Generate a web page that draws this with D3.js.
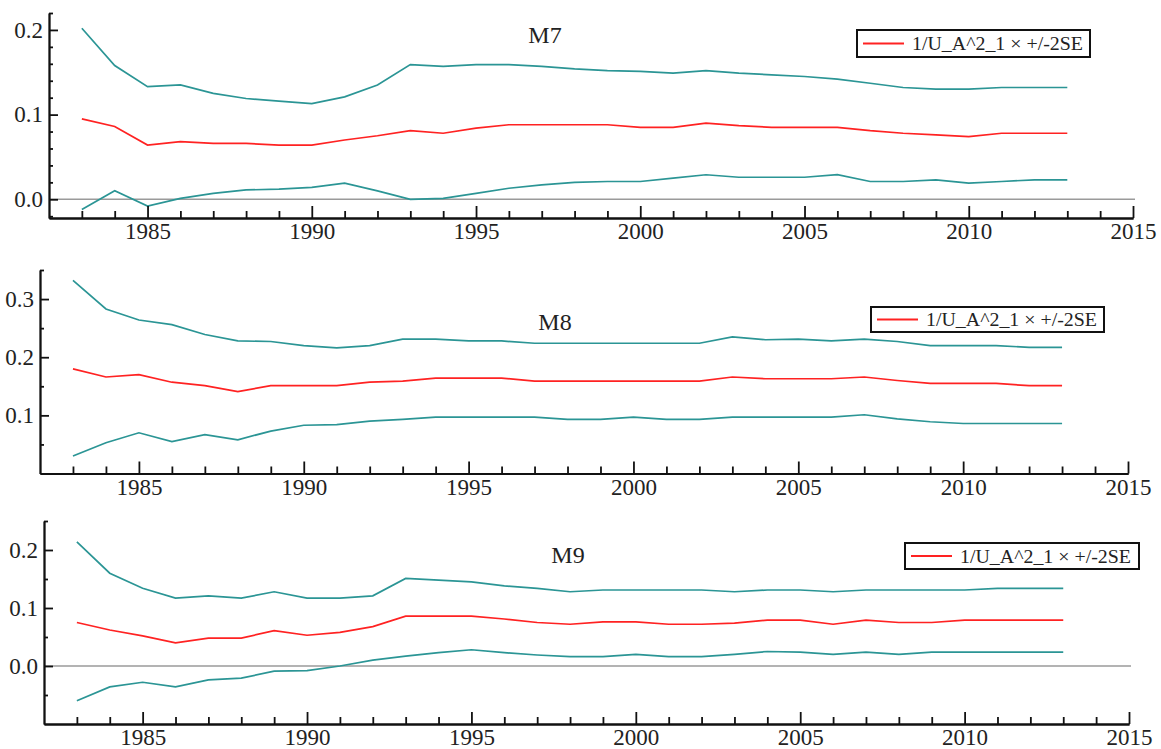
<!DOCTYPE html>
<html>
<head>
<meta charset="utf-8">
<script src="https://cdn.jsdelivr.net/npm/d3@7"></script>
<style>
  body { margin: 0; background: #fff; }
  svg { display: block; }
  text { font-family: "Liberation Serif", "Times New Roman", serif; }
  .axis path, .axis line { stroke: #111; stroke-width: 1.8; }
  .axis text { fill: #222; font-size: 23px; }
</style>
</head>
<body>
<svg id="chart" width="1161" height="749"></svg>
<script>
// years 1983..2013
var years = [1983,1984,1985,1986,1987,1988,1989,1990,1991,1992,1993,1994,1995,1996,1997,
  1998,1999,2000,2001,2002,2003,2004,2005,2006,2007,2008,2009,2010,2011,2012,2013];

// M7 //
var m7Upper = [0.202,0.158,0.133,0.135,0.125,0.119,0.116,0.113,0.121,0.135,0.159,0.157,0.159,0.159,0.157,
  0.154,0.152,0.151,0.149,0.152,0.149,0.147,0.145,0.142,0.137,0.132,0.130,0.130,0.132,0.132,0.132];
var m7Mid = [0.095,0.086,0.064,0.068,0.066,0.066,0.064,0.064,0.070,0.075,0.081,0.078,0.084,0.088,0.088,
  0.088,0.088,0.085,0.085,0.090,0.087,0.085,0.085,0.085,0.081,0.078,0.076,0.074,0.078,0.078,0.078];
var m7Lower = [-0.012,0.010,-0.008,0.001,0.007,0.011,0.012,0.014,0.019,0.010,0.000,0.001,0.007,0.013,0.017,
  0.020,0.021,0.021,0.025,0.029,0.026,0.026,0.026,0.029,0.021,0.021,0.023,0.019,0.021,0.023,0.023];

// M8 //
var m8Upper = [0.332,0.283,0.264,0.256,0.239,0.228,0.227,0.220,0.216,0.220,0.231,0.231,0.228,0.228,0.224,
  0.224,0.224,0.224,0.224,0.224,0.235,0.230,0.231,0.228,0.231,0.227,0.220,0.220,0.220,0.217,0.217];
var m8Mid = [0.180,0.166,0.170,0.157,0.151,0.141,0.151,0.151,0.151,0.157,0.159,0.164,0.164,0.164,0.159,
  0.159,0.159,0.159,0.159,0.159,0.166,0.163,0.163,0.163,0.166,0.160,0.155,0.155,0.155,0.151,0.151];
var m8Lower = [0.030,0.053,0.070,0.055,0.067,0.058,0.073,0.083,0.084,0.090,0.093,0.097,0.097,0.097,0.097,
  0.093,0.093,0.097,0.093,0.093,0.097,0.097,0.097,0.097,0.101,0.094,0.089,0.086,0.086,0.086,0.086];

// M9 //
var m9Upper = [0.214,0.160,0.134,0.117,0.121,0.117,0.128,0.117,0.117,0.121,0.151,0.148,0.145,0.138,0.134,
  0.128,0.131,0.131,0.131,0.131,0.128,0.131,0.131,0.128,0.131,0.131,0.131,0.131,0.134,0.134,0.134];
var m9Mid = [0.075,0.062,0.052,0.040,0.048,0.048,0.061,0.053,0.058,0.068,0.086,0.086,0.086,0.081,0.075,
  0.072,0.076,0.076,0.072,0.072,0.074,0.079,0.079,0.072,0.079,0.075,0.075,0.079,0.079,0.079,0.079];
var m9Lower = [-0.060,-0.036,-0.028,-0.036,-0.024,-0.021,-0.009,-0.008,0.000,0.010,0.017,0.023,0.028,0.023,0.019,
  0.016,0.016,0.020,0.016,0.016,0.020,0.025,0.024,0.020,0.024,0.020,0.024,0.024,0.024,0.024,0.024];

// tick labels
var xMajor = [1985, 1990, 1995, 2000, 2005, 2010, 2015];
var legendLabel = "1/U_A^2_1 \u00d7 +/-2SE";
var titles = ["M7", "M8", "M9"];

const teal = "#2b9595", red = "#ff2222";
const serif = '"Liberation Serif", "Times New Roman", serif';

// layout per panel
var panels = [
  { title: titles[0], upper: m7Upper, mid: m7Mid, lower: m7Lower,
    x0: 49, x1: 1133, yTop: 13, yBot: 218, domain: [-0.0221, 0.22],
    yMajor: [0, 0.1, 0.2], yMinor: [-0.02,0.02,0.04,0.06,0.08,0.12,0.14,0.16,0.18,0.22],
    zero: true, titleX: 545, titleY: 43, legend: {x: 857, y: 30, w: 233, h: 27} },
  { title: titles[1], upper: m8Upper, mid: m8Mid, lower: m8Lower,
    x0: 40, x1: 1128, yTop: 270, yBot: 473.5, domain: [0, 0.35],
    yMajor: [0.1, 0.2, 0.3], yMinor: [0.05, 0.15, 0.25, 0.35],
    zero: false, titleX: 555, titleY: 330, legend: {x: 871, y: 307, w: 233, h: 25} },
  { title: titles[2], upper: m9Upper, mid: m9Mid, lower: m9Lower,
    x0: 44, x1: 1129, yTop: 521, yBot: 724, domain: [-0.1, 0.25],
    yMajor: [0, 0.1, 0.2], yMinor: [-0.05, 0.05, 0.15, 0.25],
    zero: true, titleX: 568, titleY: 563, legend: {x: 905, y: 543, w: 234, h: 26} }
];

const svg = d3.select("#chart");

panels.forEach(function(p) {
  const g = svg.append("g");

  const x = d3.scaleLinear().domain([1982, 2015]).range([p.x0, p.x1]);
  const y = d3.scaleLinear().domain(p.domain).range([p.yBot, p.yTop]);

  // zero line
  if (p.zero) {
    g.append("line")
      .attr("x1", p.x0).attr("x2", p.x1 + 2)
      .attr("y1", y(0)).attr("y2", y(0))
      .attr("stroke", "#9a9a9a").attr("stroke-width", 1.5);
  }

  // curves
  var line = d3.line()
    .x((d, i) => x(years[i]))
    .y(d => y(d));

  [[p.upper, teal], [p.lower, teal], [p.mid, red]].forEach(function(s) {
    g.append("path")
      .datum(s[0])
      .attr("fill", "none")
      .attr("stroke", s[1])
      .attr("stroke-width", 1.7)
      .attr("d", line);
  });

  // x axis (ticks point up)
  var minorYears = d3.range(1983, 2016).filter(v => xMajor.indexOf(v) < 0);
  g.append("g").attr("class", "axis")
    .attr("transform", `translate(0, ${p.yBot})`)
    .call(d3.axisBottom(x).tickValues(minorYears).tickFormat("").tickSizeInner(-7).tickSizeOuter(0));
  g.append("g").attr("class", "axis")
    .attr("transform", `translate(0, ${p.yBot})`)
    .call(d3.axisBottom(x).tickValues(xMajor).tickFormat(d3.format("d"))
      .tickSizeInner(-12).tickSizeOuter(0).tickPadding(5))
    .attr("font-family", serif);

  // y axis (ticks point right)
  g.append("g").attr("class", "axis")
    .attr("transform", `translate(${p.x0}, 0)`)
    .call(d3.axisLeft(y).tickValues(p.yMinor).tickFormat("").tickSizeInner(-4).tickSizeOuter(0));
  g.append("g").attr("class", "axis")
    .attr("transform", `translate(${p.x0}, 0)`)
    .call(d3.axisLeft(y).tickValues(p.yMajor).tickFormat(d3.format(".1f"))
      .tickSizeInner(-9).tickSizeOuter(0).tickPadding(6))
    .attr("font-family", serif);

  // title
  g.append("text")
    .attr("x", p.titleX).attr("y", p.titleY)
    .attr("text-anchor", "middle")
    .style("font-family", serif)
    .style("font-size", "24px")
    .style("fill", "#222")
    .text(p.title);

  // legend
  var lg = g.append("g").attr("transform", `translate(${p.legend.x}, ${p.legend.y})`);
  lg.append("rect")
    .attr("width", p.legend.w).attr("height", p.legend.h)
    .attr("fill", "#fff").attr("stroke", "#111").attr("stroke-width", 2);
  lg.append("line")
    .attr("x1", 6).attr("x2", 47)
    .attr("y1", p.legend.h / 2).attr("y2", p.legend.h / 2)
    .attr("stroke", red).attr("stroke-width", 1.8);
  lg.append("text")
    .attr("x", 55).attr("y", p.legend.h / 2 + 6.5)
    .attr("textLength", 171).attr("lengthAdjust", "spacingAndGlyphs")
    .style("font-family", serif)
    .style("font-size", "19px")
    .style("fill", "#222")
    .text(legendLabel);
});
</script>
</body>
</html>
